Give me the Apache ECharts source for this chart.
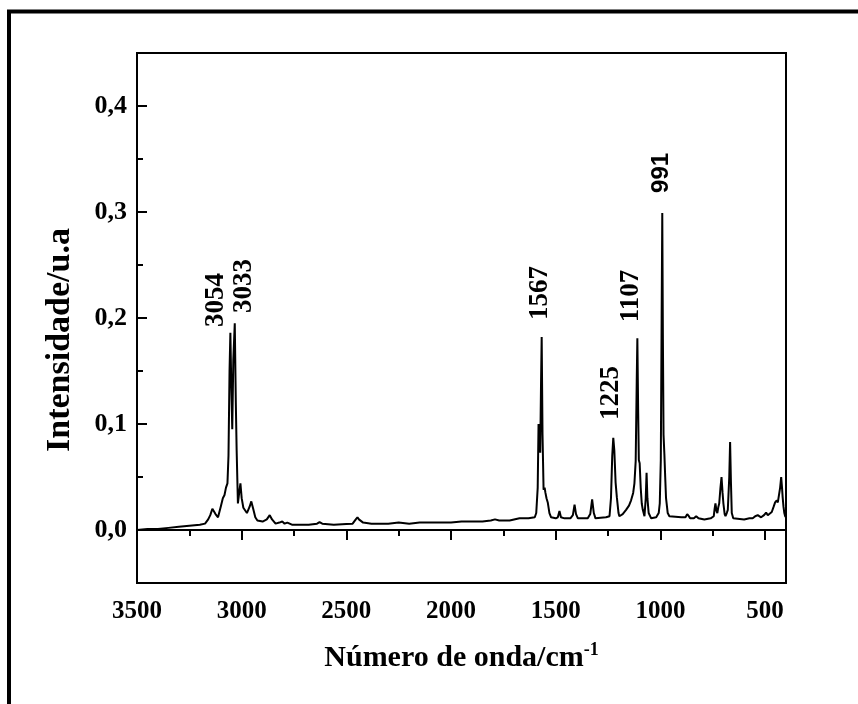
<!DOCTYPE html>
<html>
<head>
<meta charset="utf-8">
<script src="https://cdn.jsdelivr.net/npm/echarts@6/dist/echarts.min.js"></script>
<style>
  html, body { margin: 0; padding: 0; background: #fff; }
  #chart { width: 858px; height: 704px; }
</style>
</head>
<body>
<div id="chart"></div>
<script>
// spectrum, high to low wavenumber
const wavenumber = [
  3500, 3450, 3400, 3350, 3300, 3250, 3200, 3175, 3160, 3150, 3140, 3135, 3125, 3113, 3100, 3090,
  3082, 3075, 3068, 3063, 3058, 3054, 3050, 3045, 3040, 3033, 3028, 3024, 3018, 3012, 3006, 3000,
  2992, 2975, 2962, 2954, 2945, 2935, 2925, 2900, 2880, 2866, 2855, 2838, 2820, 2806, 2795, 2782,
  2760, 2718, 2680, 2640, 2628, 2615, 2560, 2500, 2470, 2455, 2447, 2440, 2432, 2420, 2380, 2300,
  2250, 2200, 2150, 2100, 2050, 2000, 1950, 1900, 1850, 1810, 1790, 1770, 1720, 1673, 1630, 1600,
  1593, 1586, 1582, 1578, 1574, 1570, 1567, 1563, 1558, 1553, 1549, 1544, 1538, 1530, 1522, 1500,
  1490, 1482, 1475, 1458, 1430, 1418, 1410, 1403, 1394, 1347, 1335, 1326, 1318, 1310, 1260, 1243,
  1236, 1230, 1225, 1220, 1214, 1208, 1200, 1196, 1180, 1164, 1150, 1140, 1130, 1124, 1118, 1113,
  1110, 1106, 1103, 1099, 1094, 1089, 1084, 1076, 1070, 1066, 1062, 1056, 1044, 1020, 1008, 1003,
  998, 994, 991, 988, 985, 981, 977, 973, 965, 957, 900, 880, 872, 869, 864, 858,
  840, 829, 818, 790, 760, 745, 741, 737, 732, 728, 723, 719, 713, 708, 703, 699,
  693, 689, 683, 678, 671, 667, 663, 659, 652, 647, 600, 575, 559, 547, 535, 527,
  519, 505, 495, 487, 479, 468, 459, 452, 444, 439, 435, 428, 423, 419, 416, 412,
  408, 404, 400
];
const intensity = [
  0.000, 0.001, 0.001, 0.002, 0.003, 0.004, 0.005, 0.006, 0.010, 0.014, 0.020, 0.021, 0.015, 0.012, 0.022, 0.030,
  0.033, 0.040, 0.044, 0.070, 0.150, 0.186, 0.140, 0.095, 0.160, 0.195, 0.120, 0.075, 0.025, 0.035, 0.044, 0.030,
  0.021, 0.016, 0.022, 0.027, 0.020, 0.012, 0.009, 0.008, 0.010, 0.014, 0.010, 0.006, 0.007, 0.008, 0.006, 0.007,
  0.005, 0.005, 0.005, 0.006, 0.0075, 0.006, 0.005, 0.0057, 0.006, 0.010, 0.012, 0.010, 0.011, 0.007, 0.006, 0.006,
  0.007, 0.006, 0.007, 0.007, 0.007, 0.007, 0.008, 0.008, 0.008, 0.009, 0.010, 0.009, 0.009, 0.011, 0.011, 0.012,
  0.016, 0.040, 0.100, 0.090, 0.073, 0.140, 0.182, 0.090, 0.038, 0.040, 0.035, 0.030, 0.026, 0.016, 0.012, 0.011,
  0.012, 0.018, 0.012, 0.011, 0.011, 0.014, 0.024, 0.015, 0.011, 0.011, 0.015, 0.029, 0.016, 0.011, 0.012, 0.013,
  0.030, 0.070, 0.087, 0.075, 0.045, 0.031, 0.016, 0.013, 0.015, 0.019, 0.023, 0.028, 0.035, 0.044, 0.065, 0.140,
  0.181, 0.110, 0.066, 0.063, 0.040, 0.025, 0.019, 0.013, 0.030, 0.054, 0.030, 0.016, 0.011, 0.012, 0.016, 0.025,
  0.066, 0.200, 0.299, 0.180, 0.090, 0.072, 0.050, 0.030, 0.016, 0.013, 0.012, 0.012, 0.015, 0.016, 0.013, 0.011,
  0.011, 0.013, 0.011, 0.010, 0.011, 0.013, 0.020, 0.025, 0.018, 0.016, 0.022, 0.025, 0.040, 0.050, 0.035, 0.025,
  0.015, 0.013, 0.016, 0.019, 0.050, 0.083, 0.045, 0.016, 0.011, 0.010, 0.010, 0.011, 0.011, 0.013, 0.014, 0.013,
  0.012, 0.014, 0.0165, 0.014, 0.013, 0.017, 0.022, 0.026, 0.028, 0.026, 0.025, 0.040, 0.050, 0.040, 0.031, 0.022,
  0.016, 0.013, 0.012
];

const xTicks = [3500, 3000, 2500, 2000, 1500, 1000, 500];
const xMinorTicks = [3250, 2750, 2250, 1750, 1250, 750];
const yTicks = [0, 0.1, 0.2, 0.3, 0.4];
const yMinorTicks = [0.05, 0.15, 0.25, 0.35];

// peak labels: text and where the bottom of the rotated text sits
const peakNames = ['3054', '3033', '1567', '1225', '1107', '991'];
const peakLabelX = [3124, 2989, 1577, 1238, 1138, 994];
const peakLabelY = [0.1915, 0.2047, 0.198, 0.1038, 0.196, 0.318];

const serif = '"Times New Roman", "Liberation Serif", serif';
const sans = '"Liberation Sans", Arial, sans-serif';

const chart = echarts.init(document.getElementById('chart'));

const spectrum = wavenumber.map((w, i) => [w, intensity[i]]);
const labelData = peakNames.map((n, i) => {
  const item = { name: n, value: [peakLabelX[i], peakLabelY[i]] };
  if (n === '991') {
    // this one is set in a sans face in the original
    item.label = { fontFamily: sans, fontSize: 24 };
  }
  return item;
});

chart.setOption({
  animation: false,
  backgroundColor: '#fff',
  graphic: [{
    type: 'rect',
    shape: { x: 9, y: 11.5, width: 1000, height: 1000 },
    style: { fill: 'none', stroke: '#000', lineWidth: 4 },
    silent: true
  }],
  grid: {
    left: 137,
    right: 72,
    top: 53,
    bottom: 121,
    show: true,
    borderColor: '#000',
    borderWidth: 2,
    backgroundColor: 'transparent'
  },
  xAxis: [{
    type: 'value',
    min: 400,
    max: 3500,
    inverse: true,
    position: 'bottom',
    splitLine: { show: false },
    axisLine: { lineStyle: { color: '#000', width: 2 } },
    axisTick: { customValues: xTicks, inside: false, length: 10, lineStyle: { color: '#000', width: 2 } },
    axisLabel: {
      customValues: xTicks,
      margin: 16,
      color: '#000',
      fontFamily: serif,
      fontWeight: 'bold',
      fontSize: 25,
      formatter: v => String(v)
    },
    name: '{a|Número de onda/cm}{b|-1}',
    nameLocation: 'middle',
    nameGap: 58,
    nameTextStyle: {
      rich: {
        a: { fontFamily: serif, fontWeight: 'bold', fontSize: 30, color: '#000', lineHeight: 34 },
        b: { fontFamily: serif, fontWeight: 'bold', fontSize: 18, color: '#000', verticalAlign: 'top', lineHeight: 18 }
      }
    }
  }, {
    type: 'value',
    min: 400,
    max: 3500,
    inverse: true,
    position: 'bottom',
    splitLine: { show: false },
    axisLine: { show: false },
    axisTick: { customValues: xMinorTicks, inside: false, length: 6, lineStyle: { color: '#000', width: 2 } },
    axisLabel: { show: false }
  }],
  yAxis: [{
    type: 'value',
    min: -0.05,
    max: 0.45,
    position: 'left',
    splitLine: { show: false },
    axisLine: { show: true, lineStyle: { color: '#000', width: 2 } },
    axisTick: { show: true, customValues: yTicks, inside: true, length: 10, lineStyle: { color: '#000', width: 2 } },
    axisLabel: {
      customValues: yTicks,
      margin: 10,
      color: '#000',
      fontFamily: serif,
      fontWeight: 'bold',
      fontSize: 26,
      formatter: v => v.toFixed(1).replace('.', ',')
    },
    name: 'Intensidade/u.a',
    nameLocation: 'middle',
    nameGap: 60,
    nameRotate: 90,
    nameTextStyle: {
      fontFamily: serif,
      fontWeight: 'bold',
      fontSize: 34,
      color: '#000',
      padding: [0, 44, 0, 0]
    }
  }, {
    type: 'value',
    min: -0.05,
    max: 0.45,
    position: 'left',
    splitLine: { show: false },
    axisLine: { show: false },
    axisTick: { show: true, customValues: yMinorTicks, inside: true, length: 6, lineStyle: { color: '#000', width: 2 } },
    axisLabel: { show: false }
  }],
  series: [{
    type: 'line',
    data: spectrum,
    symbol: 'none',
    lineStyle: { color: '#000', width: 2 },
    silent: true
  }, {
    type: 'scatter',
    data: labelData,
    symbolSize: 0,
    itemStyle: { opacity: 1 },
    silent: true,
    label: {
      show: true,
      position: [0, 0],
      formatter: p => p.name,
      rotate: 90,
      align: 'left',
      verticalAlign: 'middle',
      color: '#000',
      opacity: 1,
      textBorderWidth: 0,
      fontFamily: serif,
      fontWeight: 'bold',
      fontSize: 27
    }
  }]
});
</script>
</body>
</html>
